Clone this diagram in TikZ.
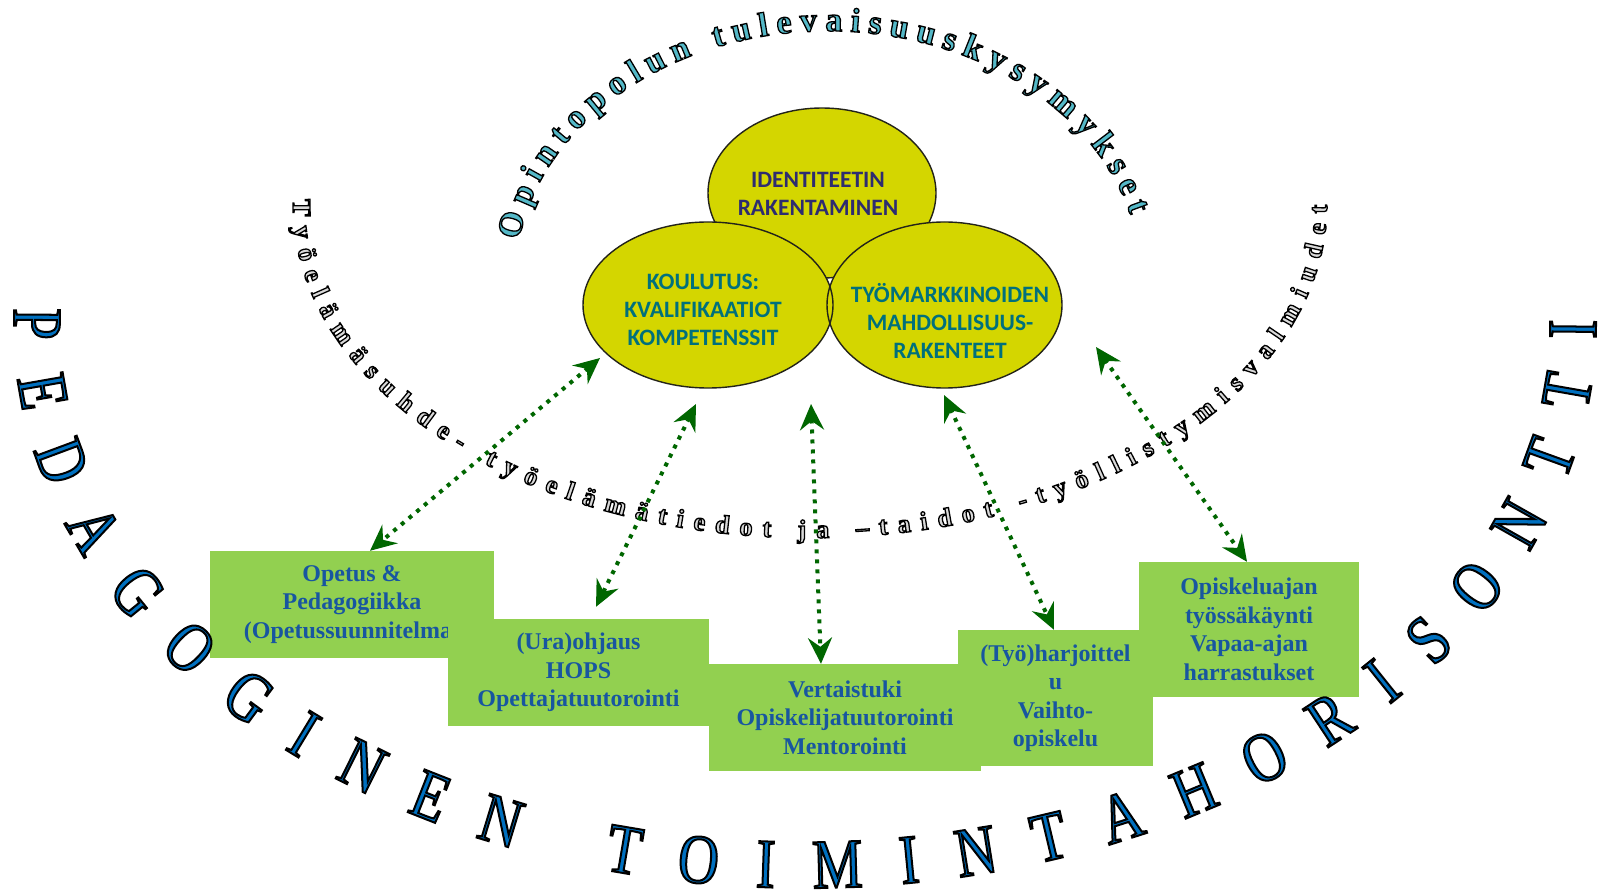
\documentclass[tikz,border=0pt]{standalone}
\usepackage{fontspec}
\usetikzlibrary{shapes.geometric,arrows.meta,decorations.text}
\setmainfont{Liberation Serif}
\newfontfamily\fSerif{Liberation Serif}
\newfontfamily\fSerifC{Liberation Serif}[FakeStretch=0.8]
\newfontfamily\fCal{Carlito}
\definecolor{ellfill}{RGB}{212,214,0}
\definecolor{ellline}{RGB}{35,35,25}
\definecolor{navytxt}{RGB}{46,44,112}
\definecolor{tealtxt}{RGB}{0,112,124}
\definecolor{boxfill}{RGB}{146,208,80}
\definecolor{boxtxt}{RGB}{24,86,160}
\definecolor{arrgreen}{RGB}{0,102,0}
\makeatletter
\newcommand\outl[3]{\pgfsys@invoke{#1 rg #2 RG 2 Tr #3 w}}
\makeatother
\newcommand\arcAfmt{\fontsize{34pt}{34pt}\fSerif\bfseries\outl{0.33 0.72 0.78}{0 0 0}{1.3}}
\newcommand\arcBfmt{\fontsize{26pt}{26pt}\fSerif\bfseries\outl{0.85 0.85 0.85}{0 0 0}{1.3}}
\newcommand\arcCfmt{\fontsize{70pt}{70pt}\fSerifC\outl{0 0.44 0.75}{0 0 0}{2.0}}
\begin{document}
\begin{tikzpicture}[x=1pt,y=1pt,
  ell/.style={ellipse, fill=ellfill, draw=ellline, line width=1.4pt, inner sep=0pt},
  elltxt/.style={align=center, inner sep=0pt, font=\fCal\bfseries\fontsize{23.5pt}{28pt}\selectfont},
  boxn/.style={fill=boxfill, inner sep=0pt, align=center, text=boxtxt, font=\fSerif\bfseries\fontsize{24pt}{28.5pt}\selectfont},
  arr/.style={draw=arrgreen, line width=4pt, dash pattern=on 4pt off 6pt,
    arrows={Stealth[length=26pt,width=24pt,inset=9pt]-Stealth[length=26pt,width=24pt,inset=9pt]}}]
\useasboundingbox[fill=white] (0,0) rectangle (1598,895);

% ellipses
\node[ell, minimum width=228pt, minimum height=170pt] (eT) at (822,702) {};
\node[ell, draw=none, minimum width=250pt, minimum height=166pt] (eL) at (708,590) {};
\node[ell, draw=none, minimum width=235pt, minimum height=166pt] (eR) at (944.5,590) {};
\draw[ellline, line width=1.4pt] (eL.center) ellipse [x radius=125pt, y radius=83pt];
\draw[ellline, line width=1.4pt] (eR.center) ellipse [x radius=117.5pt, y radius=83pt];
\node[elltxt, text=navytxt] (tT) at (818,701.5) {IDENTITEETIN\\RAKENTAMINEN};
\node[elltxt, text=tealtxt] (tL) at (703,585) {KOULUTUS:\\KVALIFIKAATIOT\\KOMPETENSSIT};
\node[elltxt, text=tealtxt] (tR) at (950,574) {TYÖMARKKINOIDEN\\MAHDOLLISUUS-\\RAKENTEET};

% arc texts
\begin{scope}
\path[decorate, decoration={text along path, text align={fit to path},
  text={|\arcAfmt|Opintopolun tulevaisuuskysymykset}}]
  (828pt,616pt) ++(171:313pt and 248pt) arc[start angle=171, end angle=15, x radius=313pt, y radius=248pt];
\end{scope}
\begin{scope}
\path[decorate, decoration={text along path, text align={fit to path},
  text={|\arcBfmt|Työelämäsuhde- työelämätiedot ja –taidot -työllistymisvalmiudet}}]
  (810pt,690pt) ++(179:517pt and 333pt) arc[start angle=179, end angle=360, x radius=517pt, y radius=333pt];
\end{scope}

% boxes
\node[boxn, minimum width=284pt, minimum height=107pt] (b1) at (352,290.5) {Opetus \&\\Pedagogiikka\\(Opetussuunnitelma)};
\node[boxn, minimum width=261pt, minimum height=107pt] (b2) at (578.5,222.5) {(Ura)ohjaus\\HOPS\\Opettajatuutorointi};
\node[boxn, minimum width=272pt, minimum height=107pt] (b3) at (845,177.5) {Vertaistuki\\Opiskelijatuutorointi\\Mentorointi};
\node[boxn, minimum width=195pt, minimum height=136pt] (b4) at (1055.5,197) {(Työ)harjoittel\\u\\Vaihto-\\opiskelu};
\node[boxn, minimum width=220pt, minimum height=135pt] (b5) at (1249,265.5) {Opiskeluajan\\työssäkäynti\\Vapaa-ajan\\harrastukset};

% arrows
\coordinate (u1) at (600,537);
\coordinate (u2) at (696,491);
\coordinate (u3) at (811,491);
\coordinate (u4) at (944,500);
\coordinate (u5) at (1096,548);
\draw[arr] (u1) -- ([xshift=18pt]b1.north);
\draw[arr] (u2) -- ([xshift=17.5pt,yshift=12pt]b2.north);
\draw[arr] (u3) -- ([xshift=-24pt]b3.north);
\draw[arr] (u4) -- ([xshift=-1.5pt]b4.north);
\draw[arr] (u5) -- ([xshift=-2pt]b5.north);

% big arc text
\begin{scope}
\path[decorate, decoration={text along path, text align={fit to path},
  text={|\arcCfmt|PEDAGOGINEN TOIMINTAHORISONTTI}}]
  (805pt,570pt) ++(178.3:791pt and 563pt) arc[start angle=178.3, end angle=360.5, x radius=791pt, y radius=563pt];
\end{scope}
\end{tikzpicture}
\end{document}
